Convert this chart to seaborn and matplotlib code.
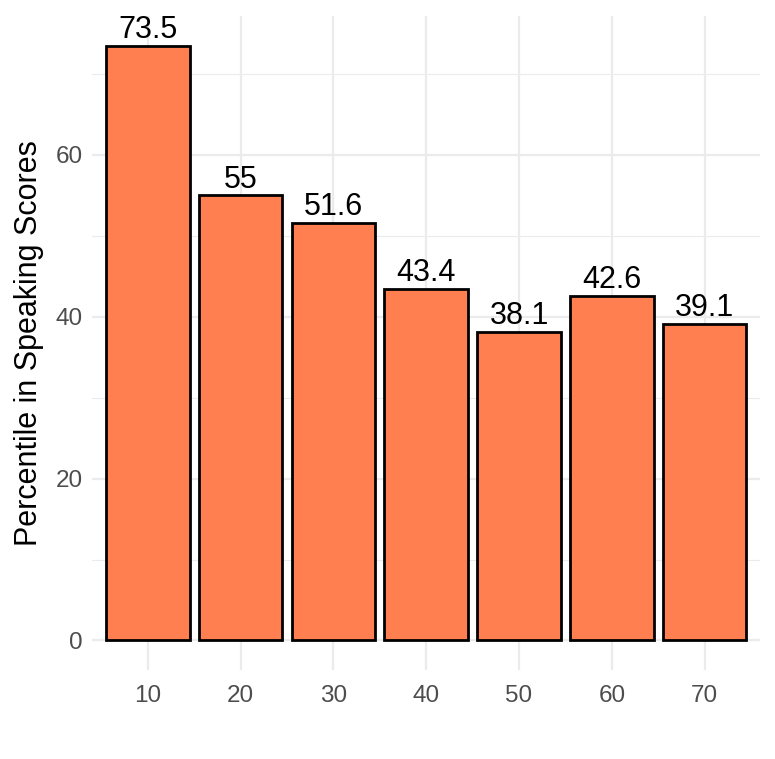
import matplotlib
matplotlib.use('Agg')
import matplotlib.pyplot as plt
import seaborn as sns
import pandas as pd

# values
groups = ["10", "20", "30", "40", "50", "60", "70"]
percentiles = [73.5, 55, 51.6, 43.4, 38.1, 42.6, 39.1]
labels = ["73.5", "55", "51.6", "43.4", "38.1", "42.6", "39.1"]

df = pd.DataFrame({"group": groups, "pct": percentiles})

sns.set_style("whitegrid")
plt.rcParams['font.family'] = ['Liberation Sans', 'DejaVu Sans']

fig = plt.figure(figsize=(7.75, 7.59), dpi=100)
ax = fig.add_axes([0.119, 0.117, 0.862, 0.862])

sns.barplot(data=df, x="group", y="pct", color="#FF7F50", saturation=1,
            edgecolor="black", linewidth=2.0, width=0.9, ax=ax)

for i, (v, lab) in enumerate(zip(percentiles, labels)):
    ax.text(i, v + 0.1, lab, ha="center", va="bottom", fontsize=22, color="black")

ymax = max(percentiles)
ax.set_ylim(-ymax * 0.05, ymax * 1.05)
ax.set_xlim(-0.6, len(groups) - 0.4)
ax.set_yticks([0, 20, 40, 60])
ax.set_yticks([10, 30, 50, 70], minor=True)

ax.grid(True, which="major", color="#EBEBEB", linewidth=1.6)
ax.grid(True, which="minor", axis="y", color="#EBEBEB", linewidth=0.8)
ax.set_axisbelow(True)
for s in ax.spines.values():
    s.set_visible(False)

ax.tick_params(axis="both", which="both", length=0, labelsize=17.5, colors="#4D4D4D")
ax.tick_params(axis="x", pad=11)
ax.tick_params(axis="y", pad=7)
ax.set_xlabel("")
ax.set_ylabel("Percentile in Speaking Scores", fontsize=22, color="black", labelpad=8)

plt.savefig("out.png", dpi=100)
